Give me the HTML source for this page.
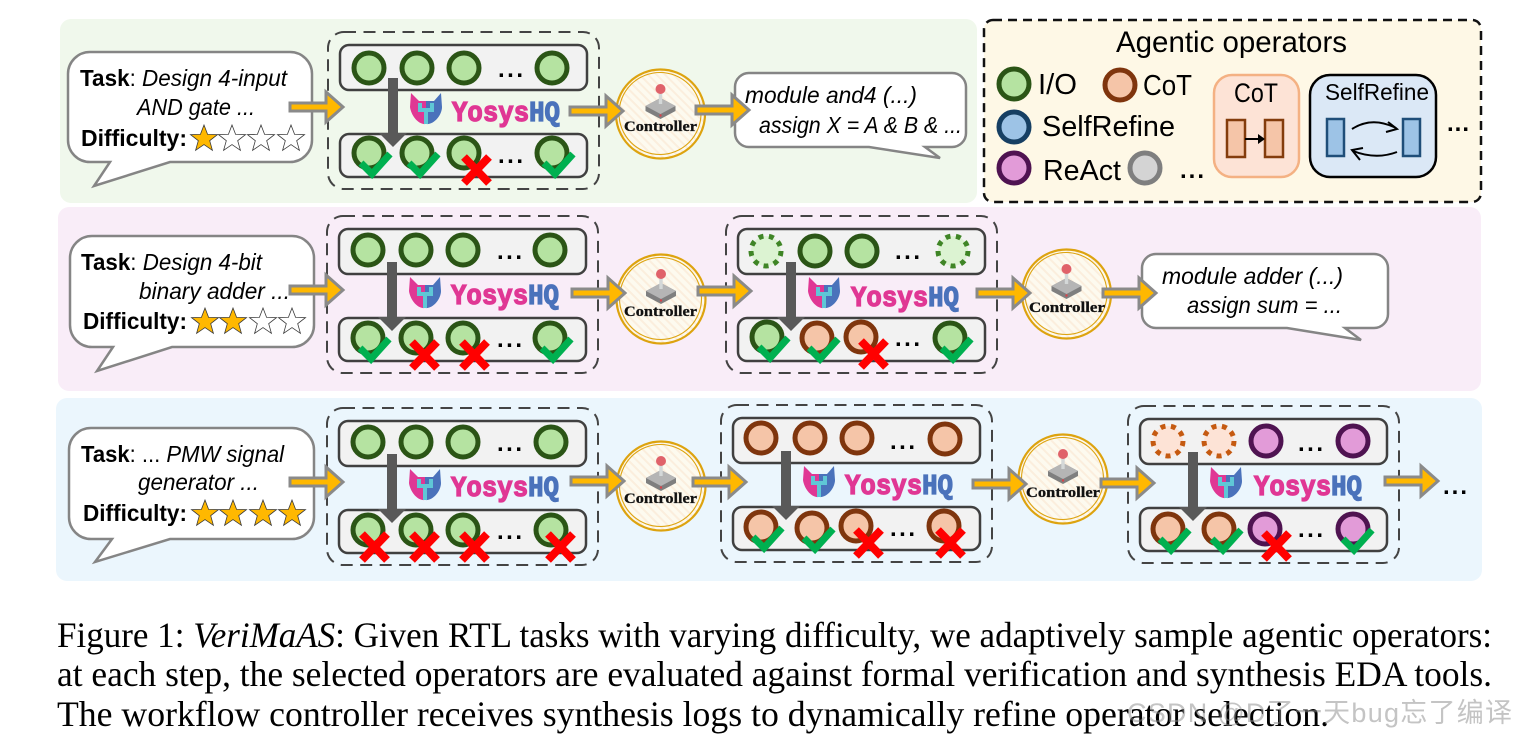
<!DOCTYPE html>
<html><head><meta charset="utf-8"><style>
html,body{margin:0;padding:0;background:#fff;width:1517px;height:738px;overflow:hidden}
svg{display:block}
.s{font-family:"Liberation Sans","Noto Sans CJK SC",sans-serif;fill:#000}
.t{font-size:23px}
.b{font-weight:700}
.i{font-style:italic}
.y{font-family:"Liberation Mono",monospace;font-weight:700;font-size:29px;stroke-width:1.3}
.c{font-family:"Liberation Serif",serif;font-weight:700;font-size:15px;fill:#111;stroke:#111;stroke-width:.3}
.d{font-family:"Liberation Sans",sans-serif;font-weight:700;font-size:24px;fill:#000}
.cap{font-family:"Liberation Serif",serif;font-size:36px;fill:#000}
.l{font-family:"Liberation Sans",sans-serif;font-size:29px;fill:#000}
</style></head><body>
<svg width="1517" height="738" viewBox="0 0 1517 738" xmlns="http://www.w3.org/2000/svg">
<defs>
<pattern id="h" width="6" height="6" patternUnits="userSpaceOnUse" patternTransform="rotate(-45)"><rect width="6" height="6" fill="#fdfaef"/><rect width="2" height="6" fill="#fbeedd"/></pattern>
<g id="io"><circle r="15" fill="#b5e3a1" stroke="#2b5516" stroke-width="5"/></g>
<g id="ct"><circle r="15" fill="#f5c5a8" stroke="#7f350d" stroke-width="5"/></g>
<g id="re"><circle r="15" fill="#e29bd8" stroke="#4f1351" stroke-width="5"/></g>
<g id="sr"><circle r="15" fill="#9dc3e6" stroke="#163f63" stroke-width="5"/></g>
<g id="gr"><circle r="15" fill="#d4d4d4" stroke="#7f7f7f" stroke-width="5"/></g>
<g id="dg"><circle r="15" fill="#dcf3d2" stroke="#3f8526" stroke-width="5" stroke-dasharray="5 5.5"/></g>
<g id="do"><circle r="15" fill="#fde3d6" stroke="#c55a11" stroke-width="5" stroke-dasharray="5 5.5"/></g>
<g id="ok"><path d="M-8 10L3 21L21 1" fill="none" stroke="#00b050" stroke-width="7"/></g>
<g id="no"><path d="M0 4L25 30M25 4L0 30" fill="none" stroke="#ff0000" stroke-width="8"/></g>
<path id="sf" d="M0-14L3.6-4.6 13.5-4.4 5.7 1.7 8.4 11.3 0 5.6-8.4 11.3-5.7 1.7-13.5-4.4-3.6-4.6Z" fill="#ffb800" stroke="#3a3a3a" stroke-width=".8"/>
<path id="se" d="M0-14L3.6-4.6 13.5-4.4 5.7 1.7 8.4 11.3 0 5.6-8.4 11.3-5.7 1.7-13.5-4.4-3.6-4.6Z" fill="#fff" stroke="#3a3a3a" stroke-width=".8"/>
<path id="ar" d="M0-4H36V-15L53 0 36 15V4H0Z" fill="#ffb800" stroke="#8a8a8a" stroke-width="3" stroke-linejoin="miter"/>
<g id="box">
<rect x="1" y="1" width="271" height="157" rx="16" fill="none" stroke="#444" stroke-width="2" stroke-dasharray="12 7.5"/>
<rect x="13" y="14" width="247" height="45" rx="9" fill="#f2f2f2" stroke="#404040" stroke-width="2.5"/>
<rect x="13" y="103" width="247" height="43" rx="9" fill="#f2f2f2" stroke="#404040" stroke-width="2.5"/>
<path d="M61 47H71V102H80L66 116 52 102H61Z" fill="#595959"/>
<g transform="translate(83,62)">
<path d="M1 0L9 8H16V31C8 32 1 22 0 14Z" fill="#e03794"/>
<path d="M31 0L24 8H16V31C24 32 32 22 32 14Z" fill="#4a72bb"/>
<path d="M8 10H12V15H20V10H24V19H18V31H14V19H8Z" fill="#5fc7d6"/>
</g>
</g>
<g id="ctl">
<circle r="44.5" fill="url(#h)" stroke="#dda30f" stroke-width="2.2"/>
<circle cx="-.5" cy="-.5" r="41" fill="none" stroke="#dda30f" stroke-width="1.1"/>
<path d="M-15-8L0-16 15-8 15-3 0 5-15-3Z" fill="#7f7f7f"/>
<path d="M-15-8L0-16 15-8 0 0Z" fill="#b5b5b5"/>
<rect x="-1.7" y="-23" width="3.4" height="13" fill="#d4d8d8"/>
<circle cy="-25" r="5" fill="#e0626a"/>
<circle cy="1.5" r="1.2" fill="#d9434a"/>
</g>
</defs>

<rect x="60" y="19" width="917" height="184" rx="11" fill="#f0f8ec"/>
<rect x="58" y="207" width="1423" height="184" rx="11" fill="#f9edf8"/>
<rect x="56" y="398" width="1426" height="183" rx="11" fill="#ebf6fd"/>
<rect x="984" y="20" width="497" height="182" rx="9" fill="#fef8e6" stroke="#111" stroke-width="2.5" stroke-dasharray="9 6"/>

<!-- Legend -->
<text class="l" x="1116" y="52" textLength="231" lengthAdjust="spacingAndGlyphs" style="font-size:30px">Agentic operators</text>
<use href="#io" x="1014" y="84"/><text class="l" x="1038" y="94" textLength="39" lengthAdjust="spacingAndGlyphs">I/O</text>
<use href="#ct" x="1120" y="85"/><text class="l" x="1143" y="95" textLength="49" lengthAdjust="spacingAndGlyphs">CoT</text>
<use href="#sr" x="1014" y="127"/><text class="l" x="1042" y="136" textLength="133" lengthAdjust="spacingAndGlyphs">SelfRefine</text>
<use href="#re" x="1014" y="168"/><text class="l" x="1043" y="180" textLength="78" lengthAdjust="spacingAndGlyphs">ReAct</text>
<use href="#gr" x="1145" y="168"/><text class="d" x="1180" y="178" textLength="24">...</text>
<rect x="1214" y="75" width="85" height="102" rx="18" fill="#fde3d6" stroke="#f4b183" stroke-width="2.5"/>
<text class="l" x="1234" y="102" textLength="44" lengthAdjust="spacingAndGlyphs" style="font-size:27px">CoT</text>
<rect x="1227" y="120" width="18" height="37" fill="#f5c5a8" stroke="#843c0c" stroke-width="2.5"/>
<rect x="1265" y="120" width="18" height="37" fill="#f5c5a8" stroke="#843c0c" stroke-width="2.5"/>
<path d="M1245 139H1259" stroke="#000" stroke-width="2"/><path d="M1258 134L1265 139 1258 144Z" fill="#000"/>
<rect x="1310" y="75" width="126" height="102" rx="20" fill="#dbe8f6" stroke="#000" stroke-width="2.5"/>
<text class="l" x="1325" y="100" textLength="104" lengthAdjust="spacingAndGlyphs" style="font-size:23px">SelfRefine</text>
<rect x="1327" y="119" width="17" height="37" fill="#9dc3e6" stroke="#1f4e79" stroke-width="2.5"/>
<rect x="1403" y="119" width="17" height="37" fill="#9dc3e6" stroke="#1f4e79" stroke-width="2.5"/>
<path d="M1352 129Q1372 116 1396 128" fill="none" stroke="#000" stroke-width="2"/><path d="M1388 122L1397 129 1386 132" fill="none" stroke="#000" stroke-width="2"/>
<path d="M1397 152Q1376 160 1353 151" fill="none" stroke="#000" stroke-width="2"/><path d="M1360 160L1352 150 1363 148" fill="none" stroke="#000" stroke-width="2"/>
<text class="d" x="1447" y="131" textLength="22">...</text>

<!-- Bubbles -->
<path d="M90 52H290A22 22 0 0 1 312 74V140A22 22 0 0 1 290 162H170L94 186 110 162H90A22 22 0 0 1 68 140V74A22 22 0 0 1 90 52Z" fill="#fff" stroke="#858585" stroke-width="2.5"/>
<path d="M92 236H292A22 22 0 0 1 314 258V325A22 22 0 0 1 292 347H172L97 371 113 347H92A22 22 0 0 1 70 325V258A22 22 0 0 1 92 236Z" fill="#fff" stroke="#858585" stroke-width="2.5"/>
<path d="M91 428H292A22 22 0 0 1 314 450V517A22 22 0 0 1 292 539H170L95 562 112 539H91A22 22 0 0 1 69 517V450A22 22 0 0 1 91 428Z" fill="#fff" stroke="#858585" stroke-width="2.5"/>

<text class="s t" x="80" y="86" textLength="207" lengthAdjust="spacingAndGlyphs"><tspan class="b">Task</tspan>: <tspan class="i">Design 4-input</tspan></text>
<text class="s t i" x="137" y="115" textLength="118" lengthAdjust="spacingAndGlyphs">AND gate ...</text>
<text class="s t b" x="81" y="146" textLength="106" lengthAdjust="spacingAndGlyphs">Difficulty:</text>
<use href="#sf" x="204" y="139"/><use href="#se" x="232" y="139"/><use href="#se" x="261" y="139"/><use href="#se" x="291" y="139"/>

<text class="s t" x="81" y="270" textLength="181" lengthAdjust="spacingAndGlyphs"><tspan class="b">Task</tspan>: <tspan class="i">Design 4-bit</tspan></text>
<text class="s t i" x="139" y="299" textLength="151" lengthAdjust="spacingAndGlyphs">binary adder ...</text>
<text class="s t b" x="83" y="329" textLength="104" lengthAdjust="spacingAndGlyphs">Difficulty:</text>
<use href="#sf" x="205" y="322"/><use href="#sf" x="233" y="322"/><use href="#se" x="263" y="322"/><use href="#se" x="292" y="322"/>

<text class="s t" x="81" y="462" textLength="203" lengthAdjust="spacingAndGlyphs"><tspan class="b">Task</tspan>: ... <tspan class="i">PMW signal</tspan></text>
<text class="s t i" x="138" y="490" textLength="121" lengthAdjust="spacingAndGlyphs">generator ...</text>
<text class="s t b" x="83" y="521" textLength="104" lengthAdjust="spacingAndGlyphs">Difficulty:</text>
<use href="#sf" x="205" y="514"/><use href="#sf" x="233" y="514"/><use href="#sf" x="263" y="514"/><use href="#sf" x="292" y="514"/>

<!-- Output bubbles -->
<path d="M750 73H952A14 14 0 0 1 966 87V133A14 14 0 0 1 952 147H925L940 158 869 147H750A14 14 0 0 1 735 133V87A14 14 0 0 1 750 73Z" fill="#fff" stroke="#858585" stroke-width="2.5"/>
<text class="s t i" x="745" y="103" textLength="172" lengthAdjust="spacingAndGlyphs">module and4 (...)</text>
<text class="s t i" x="759" y="133" textLength="203" lengthAdjust="spacingAndGlyphs">assign X = A &amp; B &amp; ...</text>
<path d="M1156 254H1374A14 14 0 0 1 1388 268V314A14 14 0 0 1 1374 328H1345L1361 340 1287 328H1156A14 14 0 0 1 1142 314V268A14 14 0 0 1 1156 254Z" fill="#fff" stroke="#858585" stroke-width="2.5"/>
<text class="s t i" x="1162" y="284" textLength="181" lengthAdjust="spacingAndGlyphs">module adder (...)</text>
<text class="s t i" x="1187" y="313" textLength="155" lengthAdjust="spacingAndGlyphs">assign sum = ...</text>

<!-- Row 1 -->
<g transform="translate(327,31)"><use href="#box"/>
<text class="y" x="125" y="90" textLength="108" lengthAdjust="spacingAndGlyphs"><tspan fill="#e03794" stroke="#e03794">Yosys</tspan><tspan fill="#4a72bb" stroke="#4a72bb">HQ</tspan></text>
<text class="d" x="171" y="46" textLength="25">...</text><text class="d" x="171" y="132" textLength="25">...</text>
<use href="#io" x="42" y="37"/><use href="#io" x="90" y="37"/><use href="#io" x="137" y="37"/><use href="#io" x="225" y="37"/>
<use href="#io" x="42" y="122"/><use href="#io" x="90" y="122"/><use href="#io" x="137" y="122"/><use href="#io" x="225" y="122"/>
<use href="#ok" x="42" y="122"/><use href="#ok" x="90" y="122"/><use href="#no" x="137" y="122"/><use href="#ok" x="225" y="122"/>
</g>
<!-- Row 2 -->
<g transform="translate(326,215)"><use href="#box"/>
<text class="y" x="125" y="89" textLength="108" lengthAdjust="spacingAndGlyphs"><tspan fill="#e03794" stroke="#e03794">Yosys</tspan><tspan fill="#4a72bb" stroke="#4a72bb">HQ</tspan></text>
<text class="d" x="171" y="44" textLength="25">...</text><text class="d" x="171" y="132" textLength="25">...</text>
<use href="#io" x="42" y="35"/><use href="#io" x="90" y="35"/><use href="#io" x="137" y="35"/><use href="#io" x="224" y="35"/>
<use href="#io" x="42" y="123"/><use href="#io" x="90" y="123"/><use href="#io" x="137" y="123"/><use href="#io" x="224" y="123"/>
<use href="#ok" x="42" y="123"/><use href="#no" x="86" y="123"/><use href="#no" x="136" y="123"/><use href="#ok" x="224" y="123"/>
</g>
<g transform="translate(725,215)"><use href="#box"/>
<text class="y" x="126" y="91" textLength="108" lengthAdjust="spacingAndGlyphs"><tspan fill="#e03794" stroke="#e03794">Yosys</tspan><tspan fill="#4a72bb" stroke="#4a72bb">HQ</tspan></text>
<text class="d" x="170" y="44" textLength="25">...</text><text class="d" x="170" y="131" textLength="25">...</text>
<use href="#dg" x="41" y="36"/><use href="#io" x="90" y="36"/><use href="#io" x="137" y="36"/><use href="#dg" x="228" y="36"/>
<use href="#io" x="42" y="122"/><use href="#ct" x="92" y="123"/><use href="#ct" x="136" y="122"/><use href="#io" x="225" y="123"/>
<use href="#ok" x="42" y="122"/><use href="#ok" x="92" y="123"/><use href="#no" x="136" y="122"/><use href="#ok" x="225" y="123"/>
</g>
<!-- Row 3 -->
<g transform="translate(326,407)"><use href="#box"/>
<text class="y" x="125" y="89" textLength="108" lengthAdjust="spacingAndGlyphs"><tspan fill="#e03794" stroke="#e03794">Yosys</tspan><tspan fill="#4a72bb" stroke="#4a72bb">HQ</tspan></text>
<text class="d" x="171" y="44" textLength="25">...</text><text class="d" x="171" y="132" textLength="25">...</text>
<use href="#io" x="42" y="35"/><use href="#io" x="90" y="35"/><use href="#io" x="137" y="35"/><use href="#io" x="225" y="35"/>
<use href="#io" x="42" y="123"/><use href="#io" x="90" y="123"/><use href="#io" x="137" y="123"/><use href="#io" x="225" y="123"/>
<use href="#no" x="36" y="123"/><use href="#no" x="86" y="123"/><use href="#no" x="136" y="123"/><use href="#no" x="222" y="123"/>
</g>
<g transform="translate(720,404)"><use href="#box"/>
<text class="y" x="125" y="90" textLength="108" lengthAdjust="spacingAndGlyphs"><tspan fill="#e03794" stroke="#e03794">Yosys</tspan><tspan fill="#4a72bb" stroke="#4a72bb">HQ</tspan></text>
<text class="d" x="170" y="45" textLength="25">...</text><text class="d" x="170" y="132" textLength="25">...</text>
<use href="#ct" x="41" y="34"/><use href="#ct" x="90" y="34"/><use href="#ct" x="137" y="34"/><use href="#ct" x="225" y="35"/>
<use href="#ct" x="41" y="123"/><use href="#ct" x="92" y="124"/><use href="#ct" x="136" y="122"/><use href="#ct" x="224" y="122"/>
<use href="#ok" x="41" y="123"/><use href="#ok" x="92" y="124"/><use href="#no" x="136" y="122"/><use href="#no" x="218" y="122"/>
</g>
<g transform="translate(1127,405)"><use href="#box"/>
<text class="y" x="127" y="90" textLength="108" lengthAdjust="spacingAndGlyphs"><tspan fill="#e03794" stroke="#e03794">Yosys</tspan><tspan fill="#4a72bb" stroke="#4a72bb">HQ</tspan></text>
<text class="d" x="171" y="46" textLength="25">...</text><text class="d" x="171" y="132" textLength="25">...</text>
<use href="#do" x="41" y="36"/><use href="#do" x="92" y="36"/><use href="#re" x="139" y="36"/><use href="#re" x="226" y="36"/>
<use href="#ct" x="41" y="124"/><use href="#ct" x="92" y="124"/><use href="#re" x="138" y="124"/><use href="#re" x="226" y="124"/>
<use href="#ok" x="41" y="124"/><use href="#ok" x="93" y="124"/><use href="#no" x="137" y="124"/><use href="#ok" x="224" y="124"/>
</g>

<!-- Controllers -->
<use href="#ctl" x="660.5" y="114"/><text class="c" x="624" y="131" textLength="73" lengthAdjust="spacingAndGlyphs">Controller</text>
<use href="#ctl" x="661" y="299"/><text class="c" x="624" y="316" textLength="73" lengthAdjust="spacingAndGlyphs">Controller</text>
<use href="#ctl" x="1066.5" y="294"/><text class="c" x="1029" y="312" textLength="76" lengthAdjust="spacingAndGlyphs">Controller</text>
<use href="#ctl" x="661" y="486"/><text class="c" x="624" y="503" textLength="73" lengthAdjust="spacingAndGlyphs">Controller</text>
<use href="#ctl" x="1063" y="479"/><text class="c" x="1026" y="497" textLength="74" lengthAdjust="spacingAndGlyphs">Controller</text>

<!-- Arrows -->
<use href="#ar" x="290" y="107"/><use href="#ar" x="570" y="111"/><use href="#ar" x="696" y="110"/>
<use href="#ar" x="290" y="290"/><use href="#ar" x="572" y="293"/><use href="#ar" x="698" y="291"/><use href="#ar" x="977" y="293"/><use href="#ar" x="1103" y="293"/>
<use href="#ar" x="290" y="482"/><use href="#ar" x="571" y="481"/><use href="#ar" x="693" y="482"/><use href="#ar" x="973" y="484"/><use href="#ar" x="1101" y="483"/><use href="#ar" x="1385" y="481"/>
<text class="d" x="1443" y="494" textLength="24">...</text>

<!-- Caption -->
<text class="cap" x="57" y="647" textLength="1435" lengthAdjust="spacingAndGlyphs"><tspan>Figure 1: </tspan><tspan font-style="italic">VeriMaAS</tspan><tspan>: Given RTL tasks with varying difficulty, we adaptively sample agentic operators:</tspan></text>
<text class="cap" x="57" y="686" textLength="1435" lengthAdjust="spacingAndGlyphs">at each step, the selected operators are evaluated against formal verification and synthesis EDA tools.</text>
<text class="cap" x="57" y="726" textLength="1272" lengthAdjust="spacingAndGlyphs">The workflow controller receives synthesis logs to dynamically refine operator selection.</text>
<text x="1127" y="722" textLength="385" style="font-family:'Liberation Sans','Noto Sans CJK SC',sans-serif;font-size:27px;fill:#8a8a8a;fill-opacity:.5">CSDN @D了一天bug忘了编译</text>
</svg>
</body></html>
